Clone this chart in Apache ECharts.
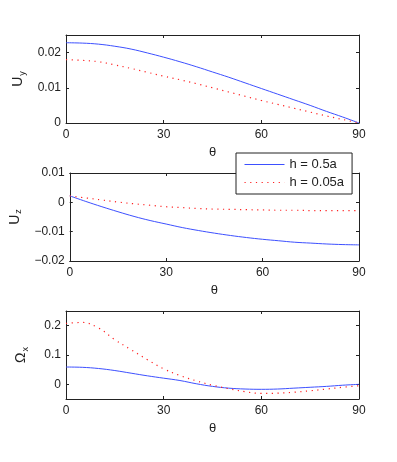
<!DOCTYPE html>
<html>
<head>
<meta charset="utf-8">
<script src="https://cdn.jsdelivr.net/npm/echarts@6/dist/echarts.min.js"></script>
<style>
  html, body { margin: 0; padding: 0; background: #fff; }
  #chart { width: 397px; height: 462px; }
</style>
</head>
<body>
<div id="chart"></div>
<script>
var theta = [0, 5, 10, 15, 20, 25, 30, 35, 40, 45, 50, 55, 60, 65, 70, 75, 80, 85, 90];

var uyThick = [0.0228, 0.0227, 0.0224, 0.0218, 0.0210, 0.0199, 0.0187, 0.0174, 0.0160, 0.0145, 0.0130, 0.0114, 0.0098, 0.0082, 0.0066, 0.0050, 0.0033, 0.0017, 0.0];
var uyThin = [0.0180, 0.0178, 0.0174, 0.0165, 0.0155, 0.0144, 0.0133, 0.0123, 0.0112, 0.0100, 0.0088, 0.0076, 0.0064, 0.0053, 0.0042, 0.0031, 0.0020, 0.0010, 0.0];
var uzThick = [0.0022, 0.0003, -0.0015, -0.0032, -0.0048, -0.0062, -0.0074, -0.0086, -0.0096, -0.0105, -0.0113, -0.0120, -0.0126, -0.0131, -0.0136, -0.0139, -0.0142, -0.0144, -0.0145];
var uzThin = [0.0022, 0.0015, 0.0008, 0.0001, -0.0005, -0.0010, -0.0015, -0.0018, -0.0021, -0.0023, -0.0024, -0.0025, -0.0026, -0.0027, -0.0027, -0.0028, -0.0028, -0.0028, -0.0028];
var oxThick = [0.059, 0.058, 0.054, 0.047, 0.038, 0.029, 0.021, 0.013, 0.002, -0.007, -0.013, -0.016, -0.017, -0.016, -0.013, -0.010, -0.007, -0.003, 0.0];
var oxThin = [0.208, 0.211, 0.192, 0.152, 0.118, 0.084, 0.053, 0.030, 0.012, -0.003, -0.015, -0.025, -0.031, -0.030, -0.027, -0.022, -0.016, -0.010, -0.005];

var xTicks = [0, 30, 60, 90];
var uyTicks = [0, 0.01, 0.02];
var uzTicks = [-0.02, -0.01, 0, 0.01];
var oxTicks = [0, 0.1, 0.2];

var seriesNames = ['h = 0.5a', 'h = 0.05a'];

(function() {
  var ink = '#222';
  var font = 'Liberation Sans, Arial, sans-serif';
  var blue = '#3d50ff';
  var red = '#ff2020';

  function pairs(xs, ys) {
    return xs.map(function(x, i) { return [x, ys[i]]; });
  }

  function fmt(v) {
    if (v === 0) return '0';
    return String(+v.toFixed(3)).replace('-', '\u2212');
  }

  var grids = [
    { left: 66, right: 38, top: 35, height: 88 },
    { left: 66, right: 38, top: 173, height: 88 },
    { left: 66, right: 38, top: 311, height: 88 }
  ];

  var yCfg = [
    { min: 0, max: 0.025, ticks: uyTicks, name: '{n|U}{s|y}' },
    { min: -0.02, max: 0.01, ticks: uzTicks, name: '{n|U}{s|z}' },
    { min: -0.05, max: 0.25, ticks: oxTicks, name: '{n|\u03A9}{s|x}' }
  ];

  var xAxes = [], yAxes = [];
  grids.forEach(function(g, i) {
    xAxes.push({
      type: 'value', gridIndex: i, min: 0, max: 90, position: 'bottom',
      name: '\u03B8', nameLocation: 'middle', nameGap: 23,
      nameTextStyle: { color: ink, fontSize: 13, fontFamily: font },
      axisLine: { onZero: false, lineStyle: { color: ink, width: 1 } },
      axisTick: { inside: true, length: 3, customValues: xTicks, lineStyle: { color: ink } },
      axisLabel: { customValues: xTicks, color: ink, fontSize: 12, fontFamily: font, margin: 6 },
      splitLine: { show: false }
    });
    xAxes.push({
      type: 'value', gridIndex: i, min: 0, max: 90, position: 'top',
      axisLine: { onZero: false, lineStyle: { color: ink, width: 1 } },
      axisTick: { inside: true, length: 3, customValues: xTicks, lineStyle: { color: ink } },
      axisLabel: { show: false },
      splitLine: { show: false }
    });
    var c = yCfg[i];
    yAxes.push({
      type: 'value', gridIndex: i, min: c.min, max: c.max, position: 'left',
      name: c.name, nameLocation: 'middle', nameGap: 36, nameRotate: 90,
      nameTextStyle: {
        color: ink, fontFamily: font,
        rich: {
          n: { fontSize: 14, fontFamily: font, color: ink },
          s: { fontSize: 9, fontFamily: font, color: ink, padding: [8, 0, 0, 1] }
        }
      },
      axisLine: { onZero: false, lineStyle: { color: ink, width: 1 } },
      axisTick: { inside: true, length: 3, customValues: c.ticks, lineStyle: { color: ink } },
      axisLabel: { customValues: c.ticks, color: ink, fontSize: 12, fontFamily: font, margin: 5, formatter: fmt },
      splitLine: { show: false }
    });
    yAxes.push({
      type: 'value', gridIndex: i, min: c.min, max: c.max, position: 'right',
      axisLine: { onZero: false, lineStyle: { color: ink, width: 1 } },
      axisTick: { inside: true, length: 3, customValues: c.ticks, lineStyle: { color: ink } },
      axisLabel: { show: false },
      splitLine: { show: false }
    });
  });

  var data = [
    [pairs(theta, uyThick), pairs(theta, uyThin)],
    [pairs(theta, uzThick), pairs(theta, uzThin)],
    [pairs(theta, oxThick), pairs(theta, oxThin)]
  ];

  var series = [];
  data.forEach(function(d, i) {
    series.push({
      name: seriesNames[0], type: 'line', xAxisIndex: 2 * i, yAxisIndex: 2 * i,
      data: d[0], smooth: 0.4, symbol: 'none',
      lineStyle: { color: blue, width: 1 }, itemStyle: { color: blue }
    });
    series.push({
      name: seriesNames[1], type: 'line', xAxisIndex: 2 * i, yAxisIndex: 2 * i,
      data: d[1], smooth: 0.4, symbol: 'none',
      lineStyle: { color: red, width: 1.2, type: [1.2, 4.5] }, itemStyle: { color: red }
    });
  });

  var chart = echarts.init(document.getElementById('chart'), null, { renderer: 'canvas' });
  chart.setOption({
    animation: false,
    backgroundColor: '#fff',
    grid: grids,
    xAxis: xAxes,
    yAxis: yAxes,
    legend: {
      data: seriesNames,
      left: 236, top: 153,
      orient: 'vertical',
      backgroundColor: '#fff',
      borderColor: ink, borderWidth: 1, borderRadius: 0,
      padding: [5, 8, 5, 8],
      itemWidth: 40, itemHeight: 10, itemGap: 5,
      itemStyle: { opacity: 0 },
      lineStyle: { width: 1 },
      textStyle: { color: ink, fontSize: 13, fontFamily: font }
    },
    series: series
  });
  window.addEventListener('resize', function() { chart.resize(); });
})();
</script>
</body>
</html>
